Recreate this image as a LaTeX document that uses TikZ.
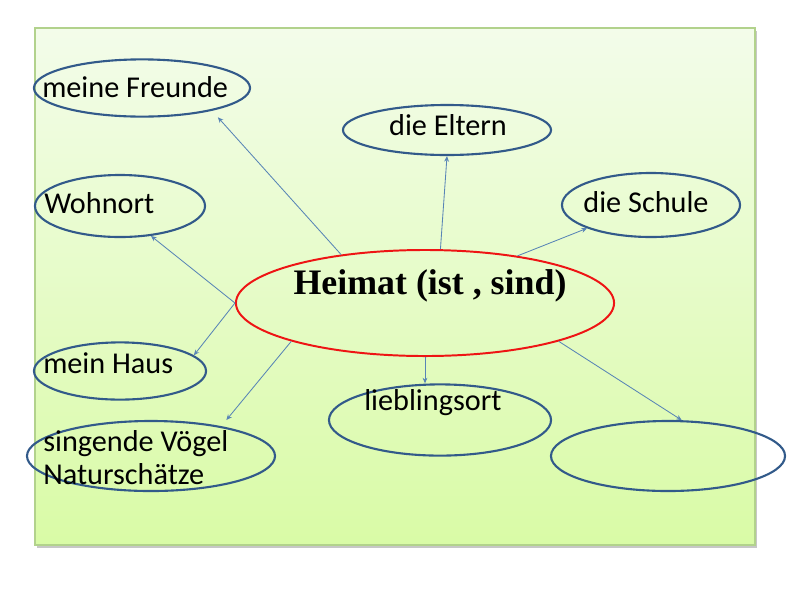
\documentclass[tikz,border=0pt]{standalone}
\usepackage{fontspec}
\usepackage{xcolor}
\usetikzlibrary{shapes.geometric,arrows.meta}
\setmainfont{Carlito}
\newfontfamily\heimatfont{Liberation Serif}
\definecolor{bubbleblue}{RGB}{50,90,138}
\definecolor{linkblue}{RGB}{88,132,182}
\definecolor{heimatred}{RGB}{238,20,20}
\definecolor{paneltop}{RGB}{243,252,234}
\definecolor{panelbottom}{RGB}{217,251,166}
\definecolor{panelrim}{RGB}{178,210,140}

\begin{document}
\begin{tikzpicture}[x=0.025cm, y=-0.025cm,
      bubble/.style={ellipse, draw=bubbleblue, line width=1.5pt, inner sep=0pt},
      word/.style={inner sep=0pt, font=\fontsize{21.5}{23.5}\selectfont, text=black},
      link/.style={-{Stealth[length=1.4mm, width=1.2mm]}, draw=linkblue, line width=0.6pt}]
    \useasboundingbox (0,0) rectangle (800,600);
    \fill[black!22] (37,31) rectangle (757,548);
    \draw[panelrim, line width=1pt, top color=paneltop, bottom color=panelbottom]
      (35,28) rectangle (755,545);

    \node[ellipse, draw=heimatred, line width=1.4pt, inner sep=0pt,
          minimum width=9.45cm, minimum height=2.65cm] (heimat) at (425,303) {};
    \node[bubble, minimum width=5.4cm, minimum height=1.43cm] (freunde) at (142,88) {};
    \node[bubble, minimum width=4.25cm, minimum height=1.55cm] (wohnort) at (120,206) {};
    \node[bubble, minimum width=5.2cm, minimum height=1.25cm] (eltern) at (447,130) {};
    \node[bubble, minimum width=4.45cm, minimum height=1.6cm] (schule) at (651,205) {};
    \node[bubble, minimum width=4.3cm, minimum height=1.43cm] (haus) at (120,371) {};
    \node[bubble, minimum width=6.2cm, minimum height=1.75cm] (voegel) at (151,456) {};
    \node[bubble, minimum width=5.55cm, minimum height=1.78cm] (liebling) at (440,420) {};
    \node[bubble, minimum width=5.85cm, minimum height=1.75cm] (leer) at (668,456) {};

    \node[inner sep=0pt, anchor=base, font=\heimatfont\bfseries\fontsize{25.5}{30}\selectfont]
      (heimat-txt) at (430,294) {Heimat (ist , sind)};
    \node[word, anchor=base west] (freunde-txt) at (42,97) {meine Freunde};
    \node[word, anchor=base west] (wohnort-txt) at (44,213) {Wohnort};
    \node[word, anchor=base] (eltern-txt) at (448,135) {die Eltern};
    \node[word, anchor=base] (schule-txt) at (646,212) {die Schule};
    \node[word, anchor=base west] (haus-txt) at (43,373) {mein Haus};
    \node[word, anchor=west, align=left] (voegel-txt) at (43,458) {singende Vögel\\Naturschätze};
    \node[word, anchor=base west] (liebling-txt) at (364,410) {lieblingsort};

    \draw[link, shorten >=2.2mm] (heimat.150) -- (freunde.-18);
    \draw[link] (heimat.west) -- (wohnort.-44);
    \draw[link] (heimat.74) -- (eltern.south);
    \draw[link] (heimat.27) -- (schule.200);
    \draw[link] (heimat.west) -- (haus.12);
    \draw[link, shorten >=2mm] (heimat.196) -- (voegel.23);
    \draw[link] (heimat.south) -- (heimat.south |- liebling.north);
    \draw[link] (heimat.344) -- (leer.69);
  \end{tikzpicture}
\end{document}
